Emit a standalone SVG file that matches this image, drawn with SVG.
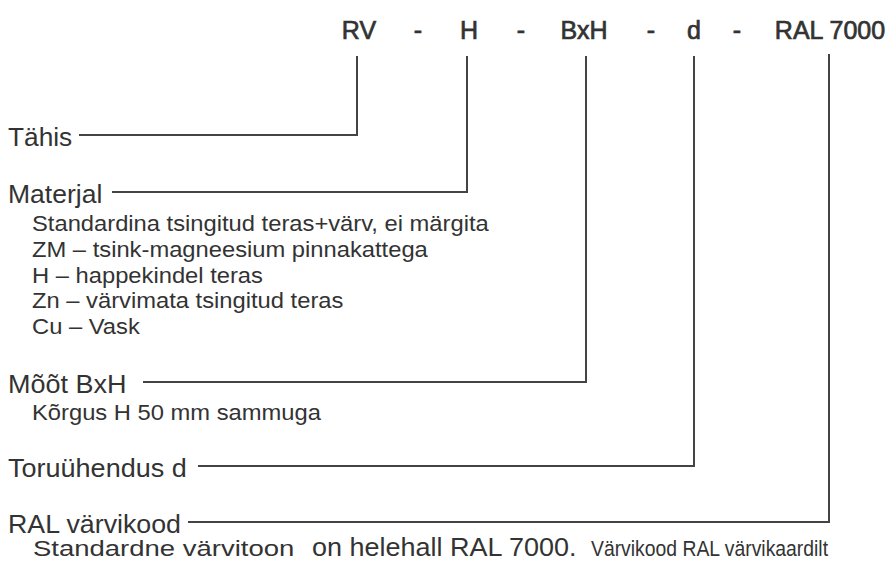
<svg xmlns="http://www.w3.org/2000/svg" width="893" height="565" viewBox="0 0 893 565">
  <style>
    .hdr { font-family: "Liberation Sans", Arial, sans-serif; font-size: 25px; fill: #333; stroke: #333; stroke-width: 0.7; text-anchor: middle; }
    .lbl { font-family: "Liberation Sans", Arial, sans-serif; font-size: 25.5px; fill: #333; }
    .sub { font-family: "Liberation Sans", Arial, sans-serif; font-size: 22px; fill: #333; }
    .big { font-family: "Liberation Sans", Arial, sans-serif; font-size: 25px; fill: #333; }
    .conn { fill: none; stroke: #444; stroke-width: 2; }
  </style>
  <rect width="893" height="565" fill="#fff"/>

  <g id="header">
    <text class="hdr" x="359" y="39">RV</text>
    <text class="hdr" x="418" y="39">-</text>
    <text class="hdr" x="469" y="39">H</text>
    <text class="hdr" x="521" y="39">-</text>
    <text class="hdr" x="584" y="39">BxH</text>
    <text class="hdr" x="651" y="39">-</text>
    <text class="hdr" x="694" y="39">d</text>
    <text class="hdr" x="737" y="39">-</text>
    <text class="hdr" x="830" y="39">RAL 7000</text>
  </g>

  <g id="connectors">
    <polyline class="conn" points="79,135 357,135 357,56"/>
    <polyline class="conn" points="112,192 467,192 467,56"/>
    <polyline class="conn" points="143,382 586,382 586,56"/>
    <polyline class="conn" points="198,466 694,466 694,56"/>
    <polyline class="conn" points="188,522 829,522 829,54"/>
  </g>

  <g id="tahis">
    <text class="lbl" transform="translate(8,146) scale(1.03,1)">Tähis</text>
  </g>

  <g id="materjal">
    <text class="lbl" transform="translate(8,203) scale(1.04,1)">Materjal</text>
    <text class="sub" transform="translate(32,231) scale(1.08,1)">Standardina tsingitud teras+värv, ei märgita</text>
    <text class="sub" transform="translate(32,257) scale(1.08,1)">ZM – tsink-magneesium pinnakattega</text>
    <text class="sub" transform="translate(32,283) scale(1.08,1)">H – happekindel teras</text>
    <text class="sub" transform="translate(32,308) scale(1.08,1)">Zn – värvimata tsingitud teras</text>
    <text class="sub" transform="translate(32,334) scale(1.08,1)">Cu – Vask</text>
  </g>

  <g id="moot">
    <text class="lbl" transform="translate(8,393) scale(1.06,1)">Mõõt BxH</text>
    <text class="sub" transform="translate(32,420) scale(1.08,1)">Kõrgus H 50 mm sammuga</text>
  </g>

  <g id="toruuhendus">
    <text class="lbl" transform="translate(8,477) scale(1.06,1)">Toruühendus d</text>
  </g>

  <g id="ral">
    <text class="lbl" transform="translate(8,533) scale(1.05,1)">RAL värvikood</text>
    <text class="sub" transform="translate(33,556) scale(1.25,1)">Standardne värvitoon</text>
    <text class="big" transform="translate(312,556) scale(1.08,1)">on helehall RAL 7000.</text>
    <text class="sub" transform="translate(591,556) scale(0.88,1)">Värvikood RAL värvikaardilt</text>
  </g>
</svg>
